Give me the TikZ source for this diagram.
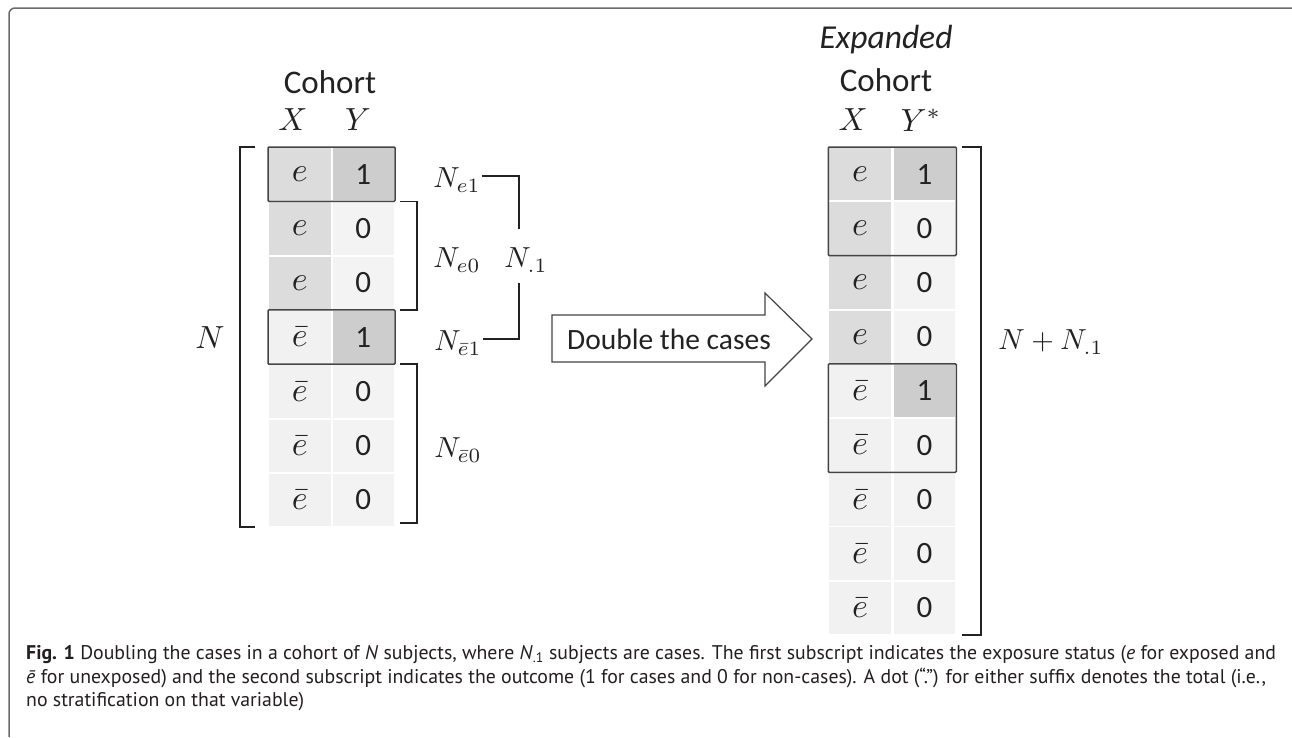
\documentclass[tikz,border=0pt]{standalone}
\usepackage{graphicx}
\usepackage{fontspec}
\setmainfont{Carlito}
\newfontfamily\capfont{PT Sans}
\usetikzlibrary{calc}

\definecolor{ink}{HTML}{222222}
\definecolor{capink}{HTML}{231F20}
\definecolor{frameline}{HTML}{6A6A6A}
\definecolor{cellE}{HTML}{DCDCDC}
\definecolor{cellEbar}{HTML}{F1F1F1}
\definecolor{cellZero}{HTML}{F3F3F3}
\definecolor{cellOne}{HTML}{CDCDCD}
\definecolor{hlline}{HTML}{444444}

% math set at 10pt and enlarged as a whole
\newcommand\mth[2]{\scalebox{#1}{\normalsize$#2$}}

\tikzset{
  cell/.style={minimum width=61.5pt, minimum height=52.3pt, inner sep=0pt,
    outer sep=1pt, text=ink, font=\fontsize{31}{36}\selectfont},
  hl/.style={draw=hlline, line width=1.5pt, rounded corners=1pt},
  br/.style={draw=ink, line width=1.6pt},
  lab/.style={text=ink, inner sep=1pt},
  head/.style={text=ink, inner sep=0pt, font=\fontsize{33}{40}\selectfont},
  capline/.style={anchor=base west, inner sep=0pt, text=capink,
    font=\capfont\fontsize{19.8}{24}\selectfont},
}

\begin{document}
\begin{tikzpicture}[x=1pt, y=-1pt]
  \useasboundingbox (0,0) rectangle (1292,737);
  \fill[white] (0,0) rectangle (1292,737);

  % frame of the figure panel
  \draw[frameline, line width=1.5pt, rounded corners=6pt] (1292,8) -- (9,8) -- (9,737);

  % ---------- cohort ----------
  \node[head] (cohortL) at (330,82) {Cohort};
  \node[lab] (xL) at (293,120) {\mth{3.2}{X}};
  \node[lab] (yL) at (358,120) {\mth{3.2}{Y}};

  \foreach \xv/\yv/\xc/\yc [count=\i from 0] in
    {{e}/1/cellE/cellOne, {e}/0/cellE/cellZero, {e}/0/cellE/cellZero,
     {\bar{e}}/1/cellEbar/cellOne, {\bar{e}}/0/cellEbar/cellZero,
     {\bar{e}}/0/cellEbar/cellZero, {\bar{e}}/0/cellEbar/cellZero}{
    \node[cell, fill=\xc] (Lx\i) at (299.75, {174.15+54.3*\i}) {\mth{3.4}{\xv}};
    \node[cell, fill=\yc] (Ly\i) at (363.25, {174.15+54.3*\i}) {\yv};
  }
  \draw[hl] (Lx0.north west) rectangle (Ly0.south east);
  \draw[hl] (Lx3.north west) rectangle (Ly3.south east);

  % total bracket
  \draw[br] ([xshift=-13pt]Lx0.north west) -| ([xshift=-28pt]Lx6.south west)
            -- ([xshift=-13pt]Lx6.south west);
  \node[lab] (nL) at (210,338) {\mth{3.2}{N}};

  % stratum brackets
  \draw[br] ([xshift=5pt]Ly1.north east) -| ([xshift=22pt]Ly2.south east)
            -- ([xshift=5pt]Ly2.south east);
  \draw[br] ([xshift=5pt]Ly4.north east) -| ([xshift=22pt,yshift=4pt]Ly6.south east)
            -- ([xshift=5pt,yshift=4pt]Ly6.south east);

  \node[lab] (ne1) at (457,180) {\mth{2.9}{N_{e1}}};
  \node[lab] (ne0) at (457,260) {\mth{2.9}{N_{e0}}};
  \node[lab] (nb1) at (458,343) {\mth{2.9}{N_{\bar{e}1}}};
  \node[lab] (nb0) at (458,450) {\mth{2.9}{N_{\bar{e}0}}};
  \node[lab] (ndot) at (526,260) {\mth{2.9}{N_{.1}}};

  % cases bracket
  \coordinate (c1) at (519,229);
  \coordinate (c2) at (519,283);
  \draw[br] ([yshift=4pt]ne1.east) -| (c1);
  \draw[br] (c2) |- ([yshift=4pt]nb1.east);

  % ---------- arrow ----------
  \draw[draw=hlline, line width=1.2pt, fill=white, line join=miter]
    (552,315) -- (765,315) -- (765,293) -- (812,339) -- (765,386)
    -- (765,362) -- (552,362) -- cycle;
  \node[text=ink, inner sep=0pt, font=\fontsize{29.5}{34}\selectfont] (dbl)
    at (669,339) {Double the cases};

  % ---------- expanded cohort ----------
  \node[head, font=\itshape\fontsize{33.5}{40}\selectfont] (expR) at (886,40) {Expanded};
  \node[head] (cohortR) at (886,80) {Cohort};
  \node[lab] (xR) at (853,120) {\mth{3.2}{X}};
  \node[lab] (yR) at (921,120) {\mth{3.2}{Y^{*}}};

  \foreach \xv/\yv/\xc/\yc [count=\i from 0] in
    {{e}/1/cellE/cellOne, {e}/0/cellE/cellZero, {e}/0/cellE/cellZero,
     {e}/0/cellE/cellZero, {\bar{e}}/1/cellEbar/cellOne,
     {\bar{e}}/0/cellEbar/cellZero, {\bar{e}}/0/cellEbar/cellZero,
     {\bar{e}}/0/cellEbar/cellZero, {\bar{e}}/0/cellEbar/cellZero}{
    \node[cell, fill=\xc] (Rx\i) at (860, {174.15+54.2*\i}) {\mth{3.4}{\xv}};
    \node[cell, fill=\yc] (Ry\i) at (924.5, {174.15+54.2*\i}) {\yv};
  }
  \draw[hl] (Rx0.north west) rectangle (Ry1.south east);
  \draw[hl] (Rx4.north west) rectangle (Ry5.south east);

  \draw[br] ([xshift=6pt]Ry0.north east) -| ([xshift=25pt]Ry8.south east)
            -- ([xshift=6pt]Ry8.south east);
  \node[lab] (nR) at (1051,342) {\mth{2.9}{N+N_{.1}}};

  % ---------- caption ----------
  \node[capline] (cap1) at (26,659) {\textbf{Fig. 1} Doubling the cases in a cohort of \textit{N} subjects, where \textit{N}\textsubscript{.1} subjects are cases. The first subscript indicates the exposure status (\textit{e} for exposed and};
  \node[capline] (cap2) at (26,683) {\textit{ē} for unexposed) and the second subscript indicates the outcome (1 for cases and 0 for non-cases). A dot (“.”) for either suffix denotes the total (i.e.,};
  \node[capline] (cap3) at (26,706) {no stratification on that variable)};
\end{tikzpicture}
\end{document}
